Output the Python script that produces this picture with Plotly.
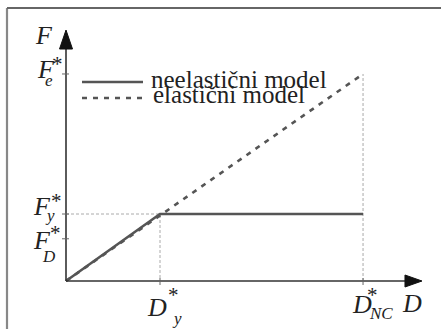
import plotly.graph_objects as go

# ---- characteristic values (normalised) ----
D_y = 1.0
D_NC = 3.16
F_y = 1.0
F_D = 0.63
F_e = 3.09

inelastic_D = [0.0, D_y, D_NC]
inelastic_F = [0.0, F_y, F_y]
elastic_D = [0.0, D_NC]
elastic_F = [0.0, F_e]

x_ticks = [D_y, D_NC]
y_ticks = [F_D, F_y, F_e]

legend_names = ["neelastični model", "elastični model"]

# axis extents (arrow tips)
X_TIP = 3.787
Y_TIP = 3.746

LINE_COL = "#555555"
AXIS_COL = "#333333"
GUIDE_COL = "#aaaaaa"
FONT = "'Liberation Serif', 'Times New Roman', Times, serif"

W, H = 441, 329
ML, MR, MT, MB = 40, 11, 25, 29
PW, PH = W - ML - MR, H - MT - MB


def px(xp):
    return (xp - ML) / PW


def py(yp):
    return (H - MB - yp) / PH


fig = go.Figure()

# guide lines
fig.add_trace(go.Scatter(x=[0, D_y, D_y], y=[F_y, F_y, 0], mode="lines",
                         line=dict(color=GUIDE_COL, width=1, dash="3px,2px"),
                         hoverinfo="skip"))
fig.add_trace(go.Scatter(x=[D_NC, D_NC], y=[0, F_e], mode="lines",
                         line=dict(color=GUIDE_COL, width=1, dash="3px,2px"),
                         hoverinfo="skip"))

# models
fig.add_trace(go.Scatter(x=inelastic_D, y=inelastic_F, mode="lines",
                         name=legend_names[0],
                         line=dict(color=LINE_COL, width=2.6)))
fig.add_trace(go.Scatter(x=elastic_D, y=elastic_F, mode="lines",
                         name=legend_names[1],
                         line=dict(color=LINE_COL, width=2.6, dash="5px,6px")))

shapes = []
# axes
shapes.append(dict(type="line", xref="x", yref="y", x0=0, y0=0, x1=0, y1=Y_TIP - 0.2,
                   line=dict(color=AXIS_COL, width=1.6)))
shapes.append(dict(type="line", xref="x", yref="y", x0=0, y0=0, x1=X_TIP - 0.15, y1=0,
                   line=dict(color=AXIS_COL, width=1.6)))
# arrowheads
shapes.append(dict(type="path", xref="x", yref="y", xsizemode="pixel", ysizemode="pixel",
                   xanchor=0, yanchor=Y_TIP, path="M -6.5 -19 L 0 0 L 6.5 -19 Z",
                   fillcolor="#111111", line=dict(color="#111111", width=1)))
shapes.append(dict(type="path", xref="x", yref="y", xsizemode="pixel", ysizemode="pixel",
                   xanchor=X_TIP, yanchor=0, path="M -17 -6 L 0 0 L -17 6 Z",
                   fillcolor="#111111", line=dict(color="#111111", width=1)))
# ticks
for t in x_ticks:
    shapes.append(dict(type="line", xref="x", yref="y", ysizemode="pixel", yanchor=0,
                       x0=t, x1=t, y0=-4, y1=3, line=dict(color="#666666", width=1)))
for t in y_ticks:
    shapes.append(dict(type="line", xref="x", yref="y", xsizemode="pixel", xanchor=0,
                       y0=t, y1=t, x0=-4, x1=3, line=dict(color="#666666", width=1)))
# legend samples
shapes.append(dict(type="line", xref="paper", yref="paper", x0=px(82), x1=px(143),
                   y0=py(82), y1=py(82), line=dict(color=LINE_COL, width=2.6)))
shapes.append(dict(type="line", xref="paper", yref="paper", x0=px(82), x1=px(145),
                   y0=py(98), y1=py(98), line=dict(color=LINE_COL, width=2.6, dash="5px,6px")))
# frame
shapes.append(dict(type="line", xref="paper", yref="paper", x0=px(7), x1=px(7),
                   y0=py(8), y1=py(340), line=dict(color="#888888", width=2.2)))
shapes.append(dict(type="line", xref="paper", yref="paper", x0=px(7), x1=px(450),
                   y0=py(8), y1=py(8), line=dict(color="#666666", width=2.2)))

ann = []


def lab(text, x, y, xs, ys, size, italic=True):
    ann.append(dict(text=f"<i>{text}</i>" if italic else text, x=x, y=y, xref="x", yref="y",
                    xshift=xs, yshift=ys, showarrow=False, xanchor="center", yanchor="middle",
                    font=dict(family=FONT, size=size, color="#222222")))


MAIN, SUB, AST = 26, 17, 21
# axis names
lab("F", 0, Y_TIP, -22, -5, MAIN)
lab("D", X_TIP, 0, -9.5, -22.5, MAIN)
# F_e*
lab("F", 0, F_e, -20, 4, MAIN)
lab("*", 0, F_e, -9, 9.5, AST, False)
lab("e", 0, F_e, -17, -7, SUB)
# F_y*
lab("F", 0, F_y, -24, 8, MAIN)
lab("*", 0, F_y, -10, 13, AST, False)
lab("y", 0, F_y, -16, -1, SUB)
# F_D*
lab("F", 0, F_D, -24, -2.2, MAIN)
lab("*", 0, F_D, -11, 5.8, AST, False)
lab("D", 0, F_D, -17, -18.2, SUB)
# D_y*
lab("D", D_y, 0, -3, -26.5, MAIN)
lab("*", D_y, 0, 13, -14, AST, False)
lab("y", D_y, 0, 17, -37.5, SUB)
# D_NC*
lab("D", D_NC, 0, -1, -23.5, MAIN)
lab("*", D_NC, 0, 9, -13.5, AST, False)
lab("NC", D_NC, 0, 18, -32, SUB)

# legend texts
for name, xl, yc in zip(legend_names, [149, 151], [79.0, 95.0]):
    ann.append(dict(text=name, x=px(xl), y=py(yc), xref="paper", yref="paper",
                    showarrow=False, xanchor="left", yanchor="middle",
                    font=dict(family=FONT, size=25, color="#222222")))

fig.update_layout(
    width=W, height=H,
    margin=dict(l=ML, r=MR, t=MT, b=MB, pad=0),
    paper_bgcolor="white", plot_bgcolor="white",
    showlegend=False,
    font=dict(family=FONT),
    xaxis=dict(range=[(ML - 66) / 94, (W - MR - 66) / 94], visible=False, fixedrange=True),
    yaxis=dict(range=[(281 - (H - MB)) / 67, (281 - MT) / 67], visible=False, fixedrange=True),
    shapes=shapes, annotations=ann,
)

fig.write_html("out.html", config=dict(displayModeBar=False),
               post_script="document.body.style.margin='0';document.body.style.overflow='hidden';")
